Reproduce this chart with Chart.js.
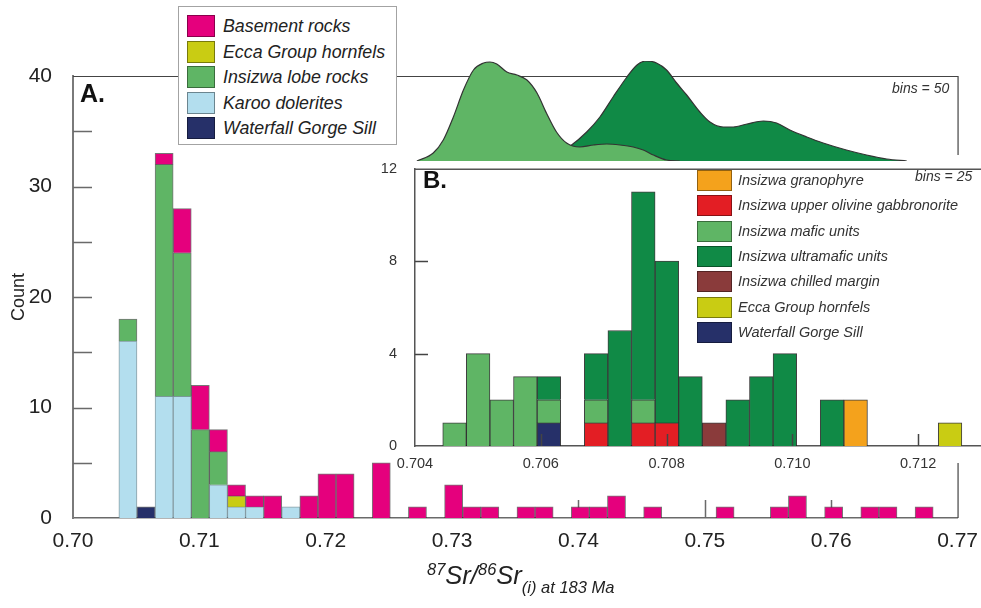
<!DOCTYPE html>
<html>
<head>
<meta charset="utf-8">
<script src="https://cdn.jsdelivr.net/npm/chart.js@4.4.1/dist/chart.umd.min.js"></script>
<style>
    body { margin: 0; background: #fff; font-family: 'Liberation Sans', Arial, sans-serif; }
    #wrap { position: relative; width: 981px; height: 608px; overflow: hidden; background: #fff; }
    canvas, .abs { position: absolute; }
    #mainChart { left: 0; top: 0; }
    #insetBg { left: 395px; top: 155px; width: 586px; height: 308px; background: #fff; }
    #insetChart { left: 370px; top: 150px; }
    #densityChart { left: 370px; top: 40px; }
    #legendA { left: 178px; top: 6px; width: 217px; height: 137px; border: 1px solid #a3a3a3; background: #fff; }
    #legendB { left: 697px; top: 170px; width: 270px; height: 175px; }
    .row { position: absolute; left: 0; white-space: nowrap; }
    .sw { position: absolute; box-sizing: border-box; border: 1px solid rgba(0, 0, 0, 0.4); }
    .lbl { position: absolute; font-style: italic; }
    #legendA .lbl { font-size: 17.8px; color: #222; }
    #legendB .lbl { font-size: 14.5px; color: #333; }
    .panel { font-weight: bold; font-size: 25px; color: #111; }
    .bins { font-style: italic; font-size: 14px; color: #333; }
    #xTitle { left: 427px; top: 559px; font-size: 25.5px; font-style: italic; color: #222; line-height: 32px; white-space: nowrap; }
    #xTitle .sup { font-size: 16.5px; vertical-align: 9px; line-height: 1; }
    #xTitle .sub { font-size: 16.5px; vertical-align: -9px; line-height: 1; }
</style>
</head>
<body>
<div id="wrap">
    <canvas id="mainChart" width="981" height="608"></canvas>
    <div id="insetBg" class="abs"></div>
    <canvas id="insetChart" width="611" height="330"></canvas>
    <canvas id="densityChart" width="611" height="125"></canvas>
    <div id="legendA" class="abs"></div>
    <div id="legendB" class="abs"></div>
    <div class="abs panel" style="left:80px; top:79px;">A.</div>
    <div class="abs panel" style="left:423px; top:166px; font-size:24px;">B.</div>
    <div class="abs bins" style="left:892px; top:80px;">bins = 50</div>
    <div class="abs bins" style="left:915px; top:168px;">bins = 25</div>
    <div id="xTitle" class="abs"><span class="sup">87</span>Sr/<span class="sup">86</span>Sr<span class="sub">(i) at 183 Ma</span></div>
</div>
<script>
// Panel A: all samples, 50 bins
const binStartA = 0.70363;
const binWidthA = 0.001432;
const basement  = [0,0,1,4,4,2,1,1,2,0,2,4,4,0,5,0,1,0,3,1,1,0,1,1,0,1,1,2,0,1,0,0,0,1,0,0,1,2,0,1,0,1,1,0,1];
const eccaA     = [0,0,0,0,0,0,1];
const insizwa   = [2,0,21,13,8,3];
const karoo     = [16,0,11,11,0,3,1,1,0,1];
const waterfallA = [0,1];
const xTicksA = [0.70, 0.71, 0.72, 0.73, 0.74, 0.75, 0.76, 0.77];
const yTicksA = [0, 5, 10, 15, 20, 25, 30, 35, 40];
const yLabelsA = [0, 10, 20, 30, 40];

// Panel B: Insizwa detail, 25 bins
const binStartB = 0.704441;
const binWidthB = 0.0003752;
const granophyre   = [0,0,0,0,0,0,0,0,0,0,0,0,0,0,0,0,0,2];
const gabbronorite = [0,0,0,0,0,0,1,0,1,1];
const mafic        = [1,4,2,3,1,0,1,0,1];
const ultramafic   = [0,0,0,0,1,0,2,5,9,7,3,0,2,3,4,0,2];
const chilled      = [0,0,0,0,0,0,0,0,0,0,0,1];
const eccaB        = [0,0,0,0,0,0,0,0,0,0,0,0,0,0,0,0,0,0,0,0,0,1];
const waterfallB   = [0,0,0,0,1];
const xTicksB = [0.704, 0.706, 0.708, 0.710, 0.712];
const yTicksB = [0, 4, 8, 12];

// density curves above panel B (relative units)
const maficDensX = [0.70403,0.70429,0.70445,0.70461,0.70477,0.70493,0.70509,0.70519,0.70530,0.70546,0.70562,0.70578,0.70594,0.70609,0.70625,0.70641,0.70662,0.70684,0.70705,0.70726,0.70747,0.70763,0.70779,0.70800,0.70821];
const maficDensY = [0,8,21,44,71,91,98,99,97,89,86,81,68,48,29,18,14,16,17,16,14,11,6,1,0];
const ultraDensX = [0.70599,0.70623,0.70647,0.70673,0.70694,0.70715,0.70737,0.70753,0.70768,0.70784,0.70800,0.70816,0.70832,0.70853,0.70869,0.70890,0.70906,0.70928,0.70954,0.70975,0.70996,0.71023,0.71049,0.71086,0.71118,0.71150,0.71182];
const ultraDensY = [0,6,15,29,44,64,84,96,100,98,91,78,66,49,39,34,34,37,40,38,31,24,18,11,6,2,0];

const colors = {
    basement: '#e5007d',
    ecca: '#c9cc13',
    insizwa: '#5fb565',
    karoo: '#b3deee',
    waterfall: '#263069',
    granophyre: '#f4a21c',
    gabbronorite: '#e31e24',
    ultramafic: '#108a46',
    chilled: '#8a3b3b',
};

const FONT = "'Liberation Sans', Arial, sans-serif";

function toPoints(counts, start, width) {
    return counts.map((c, i) => ({ x: start + (i + 0.5) * width, y: c }));
}

function barSet(label, counts, color, start, width, border) {
    return {
        label: label,
        data: toPoints(counts, start, width),
        backgroundColor: color,
        borderColor: border,
        borderWidth: 1,
        barPercentage: 1,
        categoryPercentage: 1,
    };
}

// short tick marks pointing into the plot
function drawInnerTicks(chart, opts) {
    const { ctx, chartArea: a, scales: { x, y } } = chart;
    ctx.save();
    ctx.strokeStyle = opts.color;
    ctx.lineWidth = opts.width;
    ctx.beginPath();
    x.ticks.forEach(t => {
        const px = Math.round(x.getPixelForValue(t.value)) + 0.5;
        if (px <= a.left + 2 || px >= a.right - 2) return;
        ctx.moveTo(px, a.bottom);
        ctx.lineTo(px, a.bottom - opts.lenX);
    });
    y.ticks.forEach(t => {
        const py = Math.round(y.getPixelForValue(t.value)) + 0.5;
        if (py >= a.bottom - 2 || py <= a.top + 2) return;
        ctx.moveTo(a.left, py);
        ctx.lineTo(a.left + opts.lenY, py);
    });
    ctx.stroke();
    ctx.restore();
}

const innerTicks = {
    id: 'innerTicks',
    beforeDatasetsDraw(chart, args, opts) { if (!opts.over) drawInnerTicks(chart, opts); },
    afterDatasetsDraw(chart, args, opts) { if (opts.over) drawInnerTicks(chart, opts); },
};

const frame = {
    id: 'frame',
    beforeDatasetsDraw(chart, args, opts) {
        const { ctx, chartArea: a } = chart;
        ctx.save();
        ctx.strokeStyle = opts.color;
        ctx.lineWidth = opts.width;
        ctx.beginPath();
        if (opts.top) { ctx.moveTo(a.left, a.top + 0.5); ctx.lineTo(a.right, a.top + 0.5); }
        if (opts.right) { ctx.moveTo(a.right + 0.5, a.top); ctx.lineTo(a.right + 0.5, a.bottom); }
        ctx.stroke();
        ctx.restore();
    },
};

// Panel A
const barBorder = 'rgba(45, 45, 45, 0.65)';
new Chart(document.getElementById('mainChart'), {
    type: 'bar',
    data: {
        datasets: [
            barSet('Waterfall Gorge Sill', waterfallA, colors.waterfall, binStartA, binWidthA, barBorder),
            barSet('Karoo dolerites', karoo, colors.karoo, binStartA, binWidthA, 'rgba(90, 120, 130, 0.7)'),
            barSet('Insizwa lobe rocks', insizwa, colors.insizwa, binStartA, binWidthA, barBorder),
            barSet('Ecca Group hornfels', eccaA, colors.ecca, binStartA, binWidthA, barBorder),
            barSet('Basement rocks', basement, colors.basement, binStartA, binWidthA, barBorder),
        ],
    },
    options: {
        responsive: false,
        animation: false,
        devicePixelRatio: 1,
        layout: { padding: { top: 76, right: 20, left: 0, bottom: 0 } },
        scales: {
            x: {
                type: 'linear',
                stacked: true,
                offset: false,
                min: 0.70,
                max: 0.77,
                afterFit: s => { s.height = 90; },
                afterBuildTicks: s => { s.ticks = xTicksA.map(v => ({ value: v })); },
                grid: { display: false, offset: false },
                border: { color: '#6a6a6a', width: 1.5 },
                ticks: {
                    padding: 3,
                    color: '#222',
                    font: { family: FONT, size: 21 },
                    maxRotation: 0,
                    callback: v => v.toFixed(2),
                },
            },
            y: {
                stacked: true,
                min: 0,
                max: 40,
                afterFit: s => { s.width = 73; },
                afterBuildTicks: s => { s.ticks = yTicksA.map(v => ({ value: v })); },
                grid: { display: false },
                border: { color: '#7a7a7a', width: 2 },
                ticks: {
                    padding: 13,
                    color: '#222',
                    font: { family: FONT, size: 21 },
                    callback: v => yLabelsA.includes(v) ? String(v) : '',
                },
                title: {
                    display: true,
                    text: 'Count',
                    color: '#222',
                    font: { family: FONT, size: 18 },
                    padding: { top: 8, bottom: 0 },
                },
            },
        },
        plugins: {
            legend: { display: false },
            tooltip: { enabled: false },
            innerTicks: { over: false, lenX: 18, lenY: 19, color: '#6a6a6a', width: 1.5 },
            frame: { top: true, right: true, color: '#444', width: 1.2 },
        },
    },
    plugins: [innerTicks, frame],
});

// Panel B
const insetBorder = 'rgba(30, 30, 30, 0.85)';
new Chart(document.getElementById('insetChart'), {
    type: 'bar',
    data: {
        datasets: [
            barSet('Waterfall Gorge Sill', waterfallB, colors.waterfall, binStartB, binWidthB, insetBorder),
            barSet('Insizwa upper olivine gabbronorite', gabbronorite, colors.gabbronorite, binStartB, binWidthB, insetBorder),
            barSet('Insizwa chilled margin', chilled, colors.chilled, binStartB, binWidthB, insetBorder),
            barSet('Insizwa mafic units', mafic, colors.insizwa, binStartB, binWidthB, insetBorder),
            barSet('Insizwa ultramafic units', ultramafic, colors.ultramafic, binStartB, binWidthB, insetBorder),
            barSet('Insizwa granophyre', granophyre, colors.granophyre, binStartB, binWidthB, insetBorder),
            barSet('Ecca Group hornfels', eccaB, colors.ecca, binStartB, binWidthB, insetBorder),
        ],
    },
    options: {
        responsive: false,
        animation: false,
        devicePixelRatio: 1,
        layout: { padding: { top: 13, right: 0, left: 0, bottom: 0 } },
        scales: {
            x: {
                type: 'linear',
                stacked: true,
                offset: false,
                min: 0.704,
                max: 0.713,
                afterFit: s => { s.height = 34; },
                afterBuildTicks: s => { s.ticks = xTicksB.map(v => ({ value: v })); },
                grid: { display: false, offset: false },
                border: { color: '#555', width: 1.5 },
                ticks: {
                    padding: 1,
                    color: '#333',
                    font: { family: FONT, size: 14.5 },
                    maxRotation: 0,
                    callback: v => v.toFixed(3),
                },
            },
            y: {
                stacked: true,
                min: 0,
                max: 12,
                afterFit: s => { s.width = 45; },
                afterBuildTicks: s => { s.ticks = yTicksB.map(v => ({ value: v })); },
                grid: { display: false },
                border: { color: '#555', width: 1.5 },
                ticks: {
                    padding: 10,
                    color: '#333',
                    font: { family: FONT, size: 14.5 },
                },
            },
        },
        plugins: {
            legend: { display: false },
            tooltip: { enabled: false },
            innerTicks: { over: true, lenX: 12, lenY: 13, color: '#444', width: 1.5 },
            frame: { top: true, right: false, color: '#555', width: 1.5 },
        },
    },
    plugins: [innerTicks, frame],
});

// density curves above panel B
new Chart(document.getElementById('densityChart'), {
    type: 'line',
    data: {
        datasets: [
            {
                label: 'Insizwa mafic units',
                data: maficDensX.map((x, i) => ({ x: x, y: maficDensY[i] })),
                backgroundColor: colors.insizwa,
                borderColor: '#333',
                borderWidth: 1.2,
                fill: 'origin',
                pointRadius: 0,
                cubicInterpolationMode: 'monotone',
                order: 0,
            },
            {
                label: 'Insizwa ultramafic units',
                data: ultraDensX.map((x, i) => ({ x: x, y: ultraDensY[i] })),
                backgroundColor: colors.ultramafic,
                borderColor: '#333',
                borderWidth: 1.2,
                fill: 'origin',
                pointRadius: 0,
                cubicInterpolationMode: 'monotone',
                order: 1,
            },
        ],
    },
    options: {
        responsive: false,
        animation: false,
        devicePixelRatio: 1,
        layout: { padding: { top: 21, right: 0, left: 45, bottom: 4 } },
        scales: {
            x: { type: 'linear', min: 0.704, max: 0.713, display: false },
            y: { min: 0, max: 100, display: false },
        },
        plugins: {
            legend: { display: false },
            tooltip: { enabled: false },
        },
    },
});

// HTML legends
function buildLegend(id, entries, opts) {
    const box = document.getElementById(id);
    entries.forEach((e, k) => {
        const row = document.createElement('div');
        row.className = 'row';
        row.style.top = (opts.top + k * opts.step) + 'px';
        const sw = document.createElement('div');
        sw.className = 'sw';
        sw.style.left = opts.swLeft + 'px';
        sw.style.width = opts.swW + 'px';
        sw.style.height = opts.swH + 'px';
        sw.style.background = e[1];
        const lbl = document.createElement('div');
        lbl.className = 'lbl';
        lbl.style.left = opts.txtLeft + 'px';
        lbl.style.lineHeight = opts.swH + 'px';
        lbl.textContent = e[0];
        row.appendChild(sw);
        row.appendChild(lbl);
        box.appendChild(row);
    });
}

buildLegend('legendA', [
    ['Basement rocks', colors.basement],
    ['Ecca Group hornfels', colors.ecca],
    ['Insizwa lobe rocks', colors.insizwa],
    ['Karoo dolerites', colors.karoo],
    ['Waterfall Gorge Sill', colors.waterfall],
], { top: 8, step: 25.5, swLeft: 8, swW: 28, swH: 22, txtLeft: 44 });

buildLegend('legendB', [
    ['Insizwa granophyre', colors.granophyre],
    ['Insizwa upper olivine gabbronorite', colors.gabbronorite],
    ['Insizwa mafic units', colors.insizwa],
    ['Insizwa ultramafic units', colors.ultramafic],
    ['Insizwa chilled margin', colors.chilled],
    ['Ecca Group hornfels', colors.ecca],
    ['Waterfall Gorge Sill', colors.waterfall],
], { top: 0, step: 25.3, swLeft: 0, swW: 35, swH: 21, txtLeft: 41 });
</script>
</body>
</html>
